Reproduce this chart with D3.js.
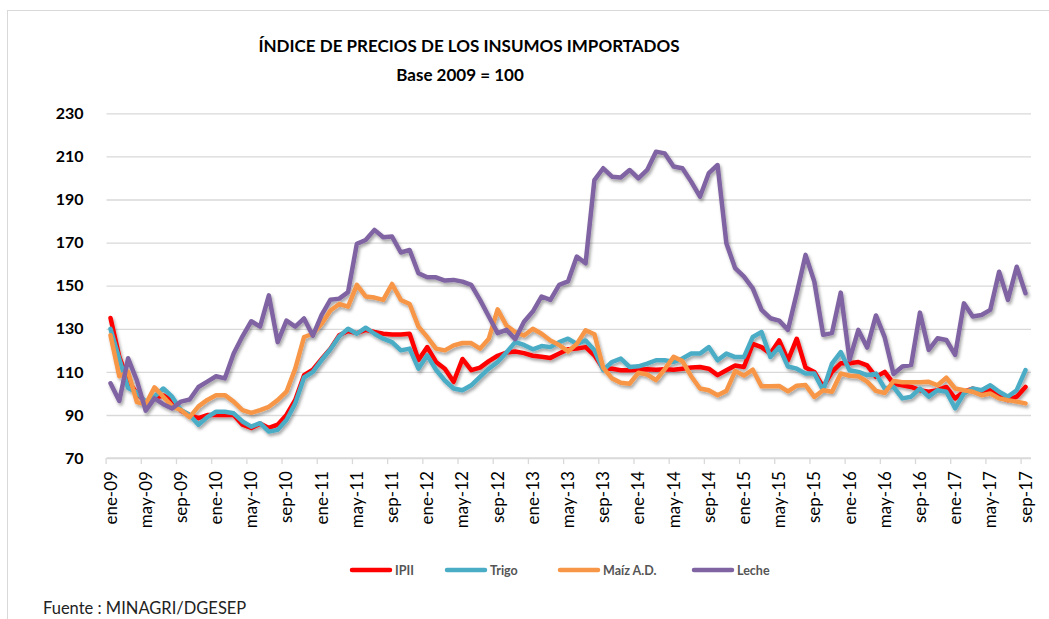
<!DOCTYPE html>
<html>
<head>
<meta charset="utf-8">
<script src="https://cdn.jsdelivr.net/npm/d3@7"></script>
<style>
  body { margin: 0; background: #fff; }
  svg { display: block; font-family: Lato, "Open Sans", sans-serif; }
</style>
</head>
<body>
<div id="chart"></div>
<script>
var monthNames = ['ene', 'feb', 'mar', 'abr', 'may', 'jun', 'jul', 'ago', 'sep', 'oct', 'nov', 'dic'];
var years = ['09', '10', '11', '12', '13', '14', '15', '16', '17'];
var lastMonth = 'sep-17';

var tickLabels = ['ene-09', 'may-09', 'sep-09', 'ene-10', 'may-10', 'sep-10', 'ene-11', 'may-11', 'sep-11',
  'ene-12', 'may-12', 'sep-12', 'ene-13', 'may-13', 'sep-13', 'ene-14', 'may-14', 'sep-14',
  'ene-15', 'may-15', 'sep-15', 'ene-16', 'may-16', 'sep-16', 'ene-17', 'may-17', 'sep-17'];

var yTicks = [70, 90, 110, 130, 150, 170, 190, 210, 230];

var ipii = [135, 117, 106, 100, 96, 98, 99, 97, 92, 90, 88.5, 90, 90, 90, 90, 85.5, 84, 86, 84, 85.5,
  90, 97, 108.5, 111, 116, 120.8, 127, 129, 128, 129.5, 128.5, 127.7, 127.4, 127.4, 127.7, 115.5, 121.5, 114.6, 111.5, 105.4,
  116, 110.8, 112, 115, 117.5, 119, 119.5, 118.7, 117.5, 117, 116.5, 118.5, 120.5, 120.8, 121.5, 117.7, 111.5, 111.5, 110.8, 110.8,
  111, 111.2, 111, 111.2, 111, 111.5, 112, 112.3, 111.5, 108.5, 110.8, 113, 112.3, 123, 121.5, 118.5, 124.6, 115.4, 125.4, 112,
  110, 103, 110, 114, 114, 114.6, 113, 107.7, 110, 104.6, 103.8, 103, 101.5, 100.8, 101.5, 103, 97.7, 100.8, 102.3, 100.8,
  101.5, 98.5, 96.9, 98.5, 103];

var trigo = [130, 116, 102.5, 100.5, 96, 98.5, 102.3, 98.5, 92.3, 90, 85.5, 89, 91.5, 91.5, 90.8, 87, 84.6, 86.2, 82.3, 83.1,
  87.7, 95.4, 107.4, 110, 115.5, 120.5, 126.5, 130, 127.7, 130.5, 127.7, 125.4, 123.8, 120, 120.8, 111.5, 117.7, 111, 106, 102.3,
  101.5, 103.8, 107.7, 111.5, 114.6, 119, 123.8, 122.5, 120.5, 122, 121.5, 123.8, 125.4, 123, 124.6, 120, 110.8, 114.6, 116.2, 112.3,
  112.6, 113.8, 115.4, 115.4, 114.6, 116.2, 118.5, 118.5, 121.5, 115.4, 118.5, 116.9, 116.9, 126.2, 128.5, 116.9, 121.5, 112.5, 111.5, 109.2,
  109.2, 101.5, 113.8, 119.2, 110.8, 110, 108.5, 109.2, 102.3, 103.1, 97.7, 98.5, 102.3, 98.5, 101.5, 100.8, 93.1, 100, 102.3, 101.5,
  103.8, 100.8, 98.5, 101.5, 110.8];

var maiz = [127, 108, 110, 96, 95, 102.8, 98.5, 94, 92.3, 89, 94, 97, 99.2, 99.2, 96.2, 92.3, 91, 92.3, 93.8, 96.9,
  100.8, 111.5, 126.2, 127.7, 132.3, 138.5, 141.5, 140.3, 150.4, 145, 144.5, 143.4, 150.8, 143.4, 141.5, 131, 126.2, 120.8, 120, 122.3,
  123.4, 123.4, 120.8, 125.4, 139, 131.5, 128.5, 126.9, 130, 127.7, 124.6, 122.5, 119.5, 123, 129.3, 127.5, 112, 107, 105, 104.5,
  109.6, 108.8, 106.2, 111.3, 117, 115, 108, 102.3, 101.5, 99.2, 101.2, 110.4, 108.3, 111, 103.3, 103.3, 103.5, 101, 103.6, 103.9,
  98.4, 101.5, 100.8, 109.3, 108.2, 108, 105.5, 101.2, 100.2, 105.8, 105.2, 105.2, 105.2, 105.4, 103.8, 107.3, 102.3, 101.5, 100.8, 99.2,
  100, 97.7, 96.9, 96.2, 95.4];

var leche = [104.7, 96.5, 116.3, 106, 92, 97.7, 95, 93, 96.2, 97.2, 103, 105.5, 108, 107, 118.5, 126.5, 133.5, 131, 145.5, 123.8,
  133.8, 131, 134.8, 126.8, 136.5, 143.5, 144, 147, 169.4, 171.2, 175.9, 172.5, 172.8, 165.4, 166.6, 155.8, 153.9, 153.9, 152.4, 152.7,
  151.9, 150.4, 143.4, 135.7, 128, 129.5, 125.2, 133.3, 138, 145, 143.4, 150.4, 152, 163.5, 160.4, 199, 204.5, 200.6, 200.2, 203.7,
  199.8, 203.7, 212.2, 211.4, 205.3, 204.5, 198.3, 191.3, 202.2, 206, 169.7, 158.1, 154.2, 148.8, 138.8, 134.9, 133.8, 129.5, 146.5, 164.3,
  151.9, 127.2, 128, 146.8, 115.6, 129.5, 121.3, 136.2, 126, 109, 112.5, 113.2, 137.5, 120.2, 125.6, 124.8, 117.9, 141.8, 135.7, 136.4,
  138.8, 156.5, 143.4, 158.8, 146.5];

var seriesNames = ['IPII', 'Trigo', 'Maíz A.D.', 'Leche'];
var seriesValues = [ipii, trigo, maiz, leche];
var seriesColors = ['#ff0000', '#4bacc6', '#f79646', '#8064a2'];

// category list ene-09 .. sep-17
var months = [];
years.forEach(function (y) {
  monthNames.forEach(function (m) {
    if (months.length && months[months.length - 1] === lastMonth) return;
    months.push(m + '-' + y);
  });
});

var width = 1049;
var height = 619;
var plot = { left: 106.5, right: 1031, top: 113.3, bottom: 458.1 };

var svg = d3.select('#chart').append('svg')
  .attr('width', width)
  .attr('height', height);

var defs = svg.append('defs');
var shadow = defs.append('filter').attr('id', 'shadow')
  .attr('x', '-5%').attr('y', '-5%').attr('width', '110%').attr('height', '120%');
shadow.append('feDropShadow')
  .attr('dx', 1.5).attr('dy', 2.5).attr('stdDeviation', 1.5)
  .attr('flood-color', '#000').attr('flood-opacity', 0.35);

// chart frame
svg.append('rect')
  .attr('x', 7.5).attr('y', 10.5)
  .attr('width', 1200).attr('height', 800)
  .attr('fill', 'none').attr('stroke', '#d9d9d9').attr('stroke-width', 1);

svg.append('text')
  .attr('x', 469).attr('y', 52)
  .attr('text-anchor', 'middle')
  .attr('font-size', 17).attr('font-weight', 700).attr('fill', '#000')
  .text('ÍNDICE DE PRECIOS DE LOS INSUMOS IMPORTADOS');

svg.append('text')
  .attr('x', 460).attr('y', 81)
  .attr('text-anchor', 'middle')
  .attr('font-size', 17).attr('font-weight', 700).attr('fill', '#000')
  .text('Base 2009 = 100');

var x = d3.scalePoint().domain(months).range([110.5, 1025.5]);
var step = x.step();
var y = d3.scaleLinear().domain([70, 230]).range([plot.bottom, plot.top]);

// gridlines + y labels
var yAxis = svg.append('g')
  .attr('transform', 'translate(' + plot.left + ',0)')
  .call(d3.axisLeft(y).tickValues(yTicks).tickSizeInner(-(plot.right - plot.left)).tickSizeOuter(0).tickPadding(23));
yAxis.select('.domain').remove();
yAxis.selectAll('line').attr('stroke', '#d9d9d9').attr('stroke-width', 1.3);
yAxis.selectAll('text')
  .attr('font-family', 'Lato, sans-serif')
  .attr('font-size', 16).attr('font-weight', 700).attr('fill', '#000');

// x axis: ticks at category boundaries every 4 months
var xAxis = svg.append('g').attr('transform', 'translate(0,' + plot.bottom + ')');
xAxis.append('line')
  .attr('x1', plot.left).attr('x2', plot.right)
  .attr('stroke', '#d9d9d9').attr('stroke-width', 1.5);
xAxis.selectAll('.tick-mark')
  .data(tickLabels)
  .enter().append('line')
  .attr('class', 'tick-mark')
  .attr('x1', function (d) { return x(d) - step / 2; })
  .attr('x2', function (d) { return x(d) - step / 2; })
  .attr('y1', 0).attr('y2', 6)
  .attr('stroke', '#d9d9d9').attr('stroke-width', 1.3);
xAxis.selectAll('.tick-label')
  .data(tickLabels)
  .enter().append('text')
  .attr('class', 'tick-label')
  .attr('transform', function (d) { return 'translate(' + (x(d) + 6) + ',13) rotate(-90)'; })
  .attr('text-anchor', 'end')
  .attr('font-size', 17).attr('fill', '#000')
  .text(function (d) { return d; });

// series lines
var line = d3.line()
  .x(function (d, i) { return x(months[i]); })
  .y(function (d) { return y(d); });

var lines = svg.append('g').attr('filter', 'url(#shadow)');
seriesValues.forEach(function (vals, k) {
  lines.append('path')
    .attr('d', line(vals))
    .attr('fill', 'none')
    .attr('stroke', seriesColors[k])
    .attr('stroke-width', 4.5)
    .attr('stroke-linejoin', 'round')
    .attr('stroke-linecap', 'round');
});

// legend
var legendX = [350, 445, 558, 692];
var legend = svg.append('g').attr('transform', 'translate(0,570)');
seriesNames.forEach(function (name, k) {
  legend.append('line')
    .attr('x1', legendX[k] + 2).attr('x2', legendX[k] + 40)
    .attr('stroke', seriesColors[k]).attr('stroke-width', 4.5)
    .attr('stroke-linecap', 'round');
  legend.append('text')
    .attr('x', legendX[k] + 45).attr('y', 4.5)
    .attr('font-size', 12.5).attr('font-weight', 700).attr('fill', '#555')
    .text(name);
});

svg.append('text')
  .attr('x', 43).attr('y', 614)
  .attr('font-size', 16.5).attr('fill', '#222')
  .text('Fuente : MINAGRI/DGESEP');
</script>
</body>
</html>
